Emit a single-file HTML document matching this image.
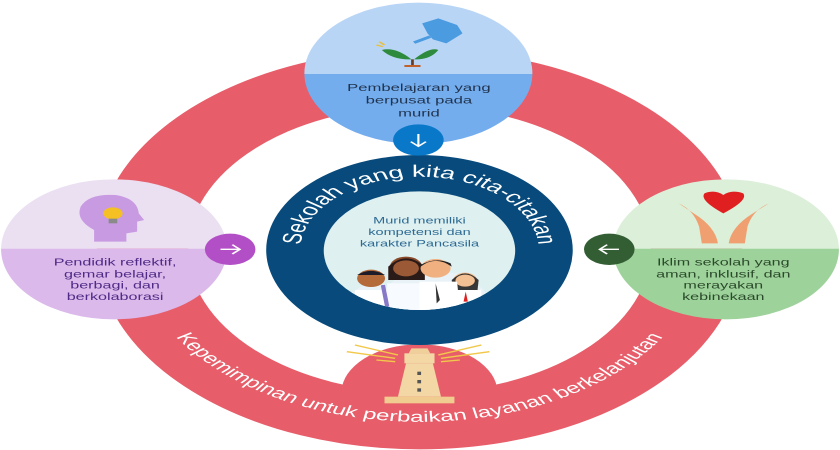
<!DOCTYPE html>
<html><head><meta charset="utf-8"><style>
html,body{margin:0;padding:0;background:#fff;width:840px;height:450px;overflow:hidden}
svg{display:block}
text{font-family:"Liberation Sans",sans-serif}
</style></head><body>
<svg width="840" height="450" viewBox="0 0 1562 1350" preserveAspectRatio="none">
<defs>
<clipPath id="ct"><circle cx="778" cy="220" r="212"/></clipPath>
<clipPath id="cl"><circle cx="212" cy="748" r="210"/></clipPath>
<clipPath id="cr"><circle cx="1350" cy="748" r="210"/></clipPath>
<clipPath id="cc"><circle cx="780" cy="752" r="178"/></clipPath>
<path id="arcTop" d="M 558,752 A 222 222 0 0 1 1002,752"/>
<path id="arcBot" d="M 300,960 A 530 530 0 0 0 1260,960"/>
</defs>
<circle cx="780" cy="748" r="515" fill="none" stroke="#e75d69" stroke-width="170"/>
<circle cx="780" cy="1178" r="145" fill="#e75d69"/>
<circle cx="780" cy="750" r="285" fill="#074a7b"/>
<circle cx="780" cy="752" r="178" fill="#def0f0"/>
<text font-size="50" fill="#fff"><textPath href="#arcTop" startOffset="50%" text-anchor="middle">Sekolah yang kita cita-citakan</textPath></text>
<text x="780" y="670" font-size="27" fill="#2d6a93" text-anchor="middle">Murid memiliki</text>
<text x="780" y="705" font-size="27" fill="#2d6a93" text-anchor="middle">kompetensi dan</text>
<text x="780" y="740" font-size="27" fill="#2d6a93" text-anchor="middle">karakter Pancasila</text>
<g clip-path="url(#cc)">
 <path d="M640,900 Q680,830 720,860 L760,800 Q780,780 800,810 L850,820 Q880,840 900,870 L920,930 L640,930Z" fill="#e8f2f7"/>
 <circle cx="690" cy="835" r="26" fill="#b56a3a"/><path d="M664,825 Q690,800 716,825Z" fill="#1d1d2a"/>
 <circle cx="755" cy="800" r="30" fill="#8a4a2a"/><path d="M722,800 Q755,750 790,800 L790,840 L722,840Z" fill="#2a1a18"/>
 <circle cx="755" cy="805" r="24" fill="#9b5a35"/>
 <circle cx="810" cy="805" r="28" fill="#f0b080"/><path d="M782,800 Q810,765 840,800 L838,790 Q810,770 782,795Z" fill="#222"/>
 <circle cx="865" cy="840" r="22" fill="#f3c094"/><path d="M840,840 Q865,800 890,840 L888,870 L842,870Z" fill="#222" opacity=".9"/><circle cx="865" cy="842" r="18" fill="#f3c094"/>
 <path d="M660,870 L720,870 L720,930 L660,930Z" fill="#fff"/><path d="M720,850 L790,850 L790,930 L720,930Z" fill="#f7fbff"/>
 <path d="M780,845 L850,845 L855,930 L780,930Z" fill="#fff"/><path d="M810,850 L818,900 L812,910Z" fill="#333"/>
 <path d="M845,870 L895,870 L895,930 L845,930Z" fill="#fff"/><path d="M866,875 L870,905 L862,905Z" fill="#d22"/>
 <path d="M712,855 L720,920" stroke="#8878c8" stroke-width="8"/>
</g>
<g clip-path="url(#ct)">
 <rect x="560" y="0" width="440" height="222" fill="#b8d5f6"/>
 <rect x="560" y="222" width="440" height="220" fill="#74adee"/>
</g>
<path d="M785,70 L815,55 L850,75 L860,100 L830,130 L805,118 L795,100Z" fill="#4a9be0"/>
<path d="M800,110 L770,128" stroke="#4a9be0" stroke-width="8"/>
<path d="M765,178 Q735,140 710,150 Q730,180 765,178Z M770,178 Q800,140 815,150 Q800,180 770,178Z" fill="#2e8a3c"/>
<path d="M767,178 L767,195" stroke="#6b3c20" stroke-width="5"/><path d="M752,198 L782,198" stroke="#c0602a" stroke-width="6"/>
<path d="M700,135 L712,140 M705,125 L715,135" stroke="#e8c040" stroke-width="4"/>
<g font-size="31" fill="#21344f" text-anchor="middle">
<text x="779" y="273">Pembelajaran yang</text><text x="779" y="311">berpusat pada</text><text x="779" y="350">murid</text></g>
<circle cx="778" cy="420" r="47" fill="#0a78c8"/>
<path d="M778,402 L778,438 M764,425 L778,439 L792,425" stroke="#fff" stroke-width="4" fill="none"/>
<g clip-path="url(#cl)">
 <rect x="0" y="530" width="430" height="216" fill="#ebdff2"/>
 <rect x="0" y="746" width="430" height="220" fill="#dbb9ea"/>
</g>
<path d="M175,725 L175,690 Q140,660 150,620 Q165,580 215,585 Q255,595 258,640 L268,660 L255,665 L255,695 L235,700 L235,725Z" fill="#c89ae2"/>
<circle cx="210" cy="640" r="18" fill="#f5c023"/><rect x="202" y="656" width="16" height="14" fill="#8a8a8a"/>
<g font-size="30" fill="#4f2a86" text-anchor="middle">
<text x="214" y="797">Pendidik reflektif,</text><text x="214" y="832">gemar belajar,</text><text x="214" y="866">berbagi, dan</text><text x="214" y="900">berkolaborasi</text></g>
<circle cx="428" cy="748" r="47" fill="#b34fc6"/>
<path d="M410,748 L446,748 M432,734 L446,748 L432,762" stroke="#fff" stroke-width="4" fill="none"/>
<g clip-path="url(#cr)">
 <rect x="1140" y="530" width="430" height="216" fill="#dcefd9"/>
 <rect x="1140" y="746" width="430" height="220" fill="#9ed29b"/>
</g>
<path d="M1345,640 Q1300,600 1310,580 Q1330,568 1345,585 Q1360,568 1382,580 Q1392,600 1345,640Z" fill="#e02020"/>
<path d="M1262,610 Q1290,630 1300,680 L1305,730 L1335,730 Q1330,680 1290,640 Z" fill="#f0a070"/>
<path d="M1430,610 Q1400,630 1390,680 L1385,730 L1355,730 Q1360,680 1400,640 Z" fill="#f0a070"/>
<g font-size="30" fill="#2b4a2b" text-anchor="middle">
<text x="1345" y="797">Iklim sekolah yang</text><text x="1345" y="832">aman, inklusif, dan</text><text x="1345" y="866">merayakan</text><text x="1345" y="900">kebinekaan</text></g>
<circle cx="1133" cy="748" r="47" fill="#335e34"/>
<path d="M1151,748 L1115,748 M1129,734 L1115,748 L1129,762" stroke="#fff" stroke-width="4" fill="none"/>
<g stroke="#f2c84b" stroke-width="4">
<path d="M645,1055 L735,1075 M660,1035 L740,1065 M700,1080 L735,1085 M910,1055 L820,1075 M895,1035 L815,1065 M855,1080 L820,1085"/></g>
<path d="M765,1045 L795,1045 L800,1060 L760,1060Z" fill="#f0d09a"/>
<rect x="752" y="1060" width="56" height="30" fill="#f3d8a6"/>
<path d="M755,1090 L805,1090 L820,1190 L740,1190Z" fill="#f3d8a6"/>
<rect x="715" y="1190" width="130" height="20" fill="#f0cc90"/>
<g fill="#555"><rect x="776" y="1115" width="7" height="10"/><rect x="776" y="1140" width="7" height="10"/><rect x="776" y="1165" width="7" height="10"/></g>
<text font-size="45" fill="#fff"><textPath href="#arcBot" startOffset="50%" text-anchor="middle">Kepemimpinan untuk perbaikan layanan berkelanjutan</textPath></text>
</svg>
</body></html>
